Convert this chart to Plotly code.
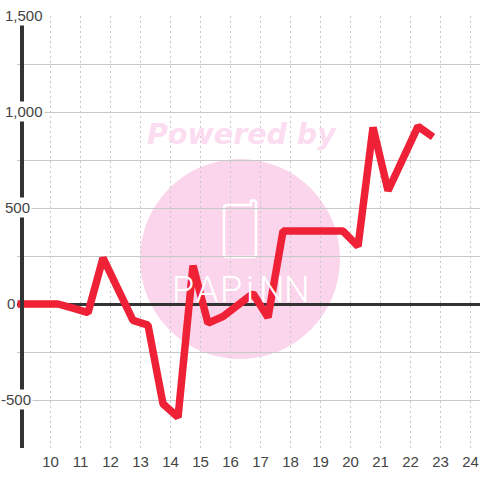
import plotly.graph_objects as go

hours = [8.9, 9.25, 9.75, 10.25, 10.75, 11.25, 11.75, 12.25, 12.75, 13.25, 13.75, 14.25, 14.75, 15.25,
         15.75, 16.25, 16.75, 17.25, 17.75, 18.25, 18.75, 19.25, 19.75, 20.25, 20.75, 21.25, 21.75, 22.25, 22.75]
values = [0, 0, 0, 0, -22, -45, 240, 75, -85, -110, -520, -590, 200, -100,
          -65, -5, 55, -70, 380, 380, 380, 380, 380, 300, 920, 590, 755, 925, 870]
y_ticks = [1500, 1000, 500, 0, -500]
y_labels = ["1,500", "1,000", "500", "0", "-500"]
x_ticks = list(range(10, 25))
logo_letters = ["P", "A", "P", "i", "N", "N"]
logo_centers = [183, 207, 231, 250, 272, 297]

W = 480
L, R, T, B = 17, 0, 16, 32
PW, PH = W - L - R, 480 - T - B
font = "Liberation Sans, Arial, sans-serif"


def px(x):
    return (x - L) / PW


def py(y):
    return (480 - B - y) / PH


fig = go.Figure()
fig.add_trace(go.Scatter(x=hours, y=values, mode="lines",
                         line=dict(color="#ee2137", width=7.5, shape="linear"),
                         hoverinfo="skip", showlegend=False))

phone = (f"M {px(227)} {py(205)} L {px(251)} {py(205)} L {px(251)} {py(201)} "
         f"Q {px(254)} {py(199)} {px(256)} {py(202)} L {px(256)} {py(254)} "
         f"Q {px(256)} {py(257)} {px(253)} {py(257)} L {px(227)} {py(257)} "
         f"Q {px(224)} {py(257)} {px(224)} {py(254)} L {px(224)} {py(208)} "
         f"Q {px(224)} {py(205)} {px(227)} {py(205)} Z")

fig.update_layout(
    width=480, height=480, margin=dict(l=L, r=R, t=T, b=B, autoexpand=False),
    paper_bgcolor="white", plot_bgcolor="white", showlegend=False,
    xaxis=dict(range=[8.883, 8.883 + PW / 30], tickvals=x_ticks, ticktext=[str(v) for v in x_ticks],
               showgrid=True, gridcolor="#c8c8c8", griddash="2px,3px", gridwidth=1,
               zeroline=False, showline=False, ticks="outside", ticklen=0, tickcolor="rgba(0,0,0,0)",
               tickfont=dict(family=font, size=15, color="#444444")),
    yaxis=dict(range=[-750, 1500], tickvals=[1500, 1250, 1000, 750, 500, 250, 0, -250, -500, -750],
               showticklabels=False, showgrid=True, gridcolor="#c8c8c8", gridwidth=1,
               zeroline=True, zerolinecolor="#333333", zerolinewidth=3,
               anchor="free", position=px(22),
               showline=True, linecolor="#333333", linewidth=4, ticks=""),
    shapes=[dict(type="circle", xref="paper", yref="paper", layer="below",
                 x0=px(140), x1=px(340), y0=py(359), y1=py(159),
                 fillcolor="#fbd5ec", line=dict(width=0)),
            dict(type="path", xref="paper", yref="paper", layer="below", path=phone,
                 line=dict(color="white", width=2.5), fillcolor="rgba(0,0,0,0)")],
)

fig.add_annotation(text="<b><i>Powered by</i></b>", xref="paper", yref="paper",
                   x=px(241.5), y=py(134), xanchor="center", yanchor="middle", showarrow=False,
                   font=dict(family="DejaVu Sans, sans-serif", size=28.5, color="#fcdcf0"))
for ch, cx in zip(logo_letters, logo_centers):
    fig.add_annotation(text=ch, xref="paper", yref="paper", x=px(cx), y=py(290),
                       xanchor="center", yanchor="middle", showarrow=False,
                       font=dict(family="Roboto, sans-serif", size=36, color="white", weight=300))

for v, s in zip(y_ticks, y_labels):
    left = -1 if v < 0 else (5 if v == 0 else 3)
    fig.add_annotation(text=s, xref="paper", yref="y", x=px(left), y=v, yshift=1,
                       xanchor="left", yanchor="middle", showarrow=False, bgcolor="white",
                       borderpad=1, font=dict(family=font, size=15, color="#444444"))

fig.write_html("out.html", config=dict(displayModeBar=False),
               post_script="document.body.style.margin='0';"
                           "document.querySelectorAll('.js-line').forEach(p=>{p.style.strokeLinejoin='bevel';});")
